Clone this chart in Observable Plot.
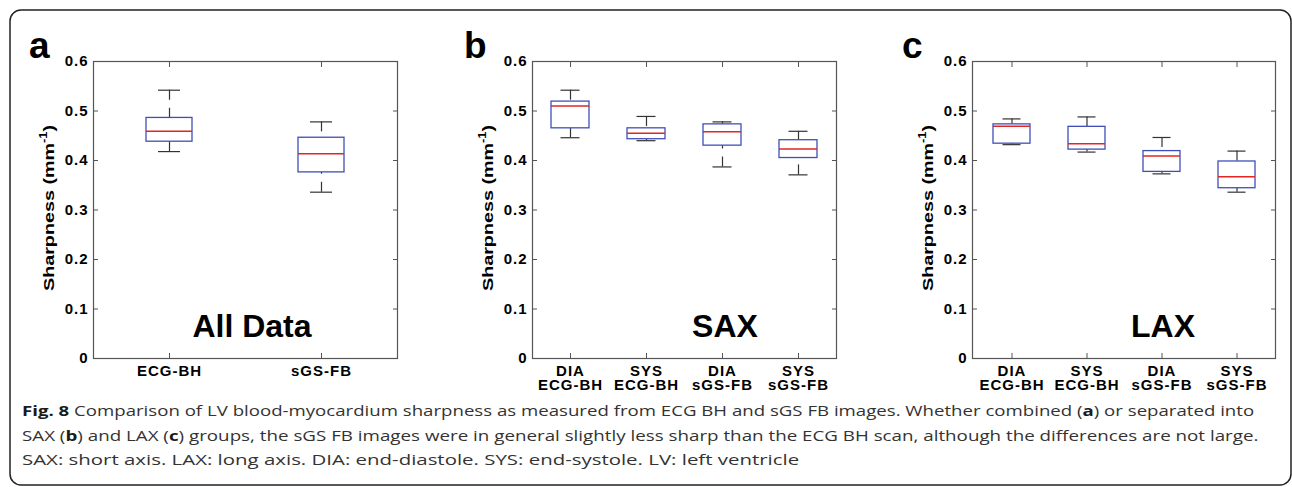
<!DOCTYPE html>
<html><head><meta charset="utf-8">
<script src="https://cdn.jsdelivr.net/npm/d3@7"></script>
<script src="https://cdn.jsdelivr.net/npm/@observablehq/plot@0.6"></script>
<style>
body{margin:0;background:#fff;}
#wrap{position:relative;width:1292px;height:487px;overflow:hidden;background:#fff;}
#wrap svg.plotsvg{position:absolute;top:0;}
#overlay{position:absolute;left:0;top:0;pointer-events:none;}
</style></head>
<body>
<div id="wrap"></div>
<script>
// ---- data ----
const yTicks = [0, 0.1, 0.2, 0.3, 0.4, 0.5, 0.6];

const catsA = ["ECG-BH", "sGS-FB"];
const lowA  = [0.418, 0.336];
const q1A   = [0.438, 0.376];
const medA  = [0.459, 0.4135];
const q3A   = [0.486, 0.446];
const highA = [0.542, 0.478];

const catsBC = ["DIA\nECG-BH", "SYS\nECG-BH", "DIA\nsGS-FB", "SYS\nsGS-FB"];

const lowSAX  = [0.446, 0.440, 0.387, 0.371];
const q1SAX   = [0.465, 0.443, 0.430, 0.405];
const medSAX  = [0.510, 0.455, 0.458, 0.423];
const q3SAX   = [0.519, 0.465, 0.473, 0.441];
const highSAX = [0.542, 0.489, 0.478, 0.459];

const lowLAX  = [0.432, 0.417, 0.373, 0.336];
const q1LAX   = [0.434, 0.422, 0.377, 0.344];
const medLAX  = [0.469, 0.434, 0.409, 0.367];
const q3LAX   = [0.473, 0.468, 0.419, 0.398];
const highLAX = [0.484, 0.488, 0.4465, 0.419];

const panelLetters = ["a", "b", "c"];
const panelTitles = ["All Data", "SAX", "LAX"];
const yLabel = "Sharpness (mm";
const yLabelSup = "-1";

// ---- drawing ----
const FONT = "'Liberation Sans', Arial, Helvetica, sans-serif";
const BLUE = "#3f4fb8", RED = "#e3261f", WHISK = "#333";

function panel(cats, low, q1, med, q3, high, o) {
  const data = cats.map((c, i) => ({c, low: low[i], q1: q1[i], med: med[i], q3: q3[i], high: high[i]}));
  const svg = Plot.plot({
    width: o.width, height: 400,
    marginLeft: o.ml, marginRight: o.mr, marginTop: 61, marginBottom: 42,
    style: {fontFamily: FONT, fontSize: "15px", fontWeight: "bold", letterSpacing: "1px", color: "#000", background: "transparent", overflow: "visible"},
    x: {type: "band", domain: cats, padding: 0, label: null},
    y: {domain: [0, 0.6], label: null},
    marks: [
      Plot.ruleX(data, {x: "c", y1: "low", y2: "q1", stroke: WHISK, strokeWidth: 1.2, strokeDasharray: "10,8"}),
      Plot.ruleX(data, {x: "c", y1: "high", y2: "q3", stroke: WHISK, strokeWidth: 1.2, strokeDasharray: "10,8"}),
      Plot.tickY(data, {x: "c", y: "low", insetLeft: o.cap, insetRight: o.cap, stroke: WHISK, strokeWidth: 1.2}),
      Plot.tickY(data, {x: "c", y: "high", insetLeft: o.cap, insetRight: o.cap, stroke: WHISK, strokeWidth: 1.2}),
      Plot.barY(data, {x: "c", y1: "q1", y2: "q3", insetLeft: o.box, insetRight: o.box, fill: "white", stroke: BLUE, strokeWidth: 1.3}),
      Plot.tickY(data, {x: "c", y: "med", insetLeft: o.box, insetRight: o.box, stroke: RED, strokeWidth: 1.5}),
      Plot.frame({stroke: "#555", strokeWidth: 1.2}),
      Plot.axisY({ticks: yTicks, tickSize: 0, tickPadding: 5, label: null, fill: "#000",
        tickFormat: d => d === 0 ? "0" : d.toFixed(1)}),
      Plot.axisY({ticks: yTicks, anchor: "left", tickSize: 5, dx: 5, label: null, tickFormat: () => "", stroke: "#555"}),
      Plot.axisY({ticks: yTicks, anchor: "right", tickSize: 5, dx: -5, label: null, tickFormat: () => "", stroke: "#555"}),
      Plot.axisX({anchor: "top", tickSize: 5, dy: 5, label: null, tickFormat: () => "", stroke: "#555"}),
      Plot.axisX({anchor: "bottom", tickSize: 5, dy: -5, label: null, tickFormat: () => "", stroke: "#555"}),
      Plot.axisX({anchor: "bottom", tickSize: 0, tickPadding: 8, label: null, lineHeight: 0.9, fill: "#000"})
    ]
  });
  svg.classList.add("plotsvg");
  svg.style.left = o.left + "px";
  return svg;
}

const wrap = document.getElementById("wrap");
wrap.appendChild(panel(catsA, lowA, q1A, medA, q3A, highA, {left: 0, width: 420, ml: 93, mr: 23, box: 53, cap: 65}));
wrap.appendChild(panel(catsBC, lowSAX, q1SAX, medSAX, q3SAX, highSAX, {left: 420, width: 440, ml: 112, mr: 24, box: 19, cap: 28.5}));
wrap.appendChild(panel(catsBC, lowLAX, q1LAX, medLAX, q3LAX, highLAX, {left: 860, width: 432, ml: 112, mr: 17, box: 19, cap: 28.5}));

// ---- overlay: border, panel letters, titles, y labels, caption ----
const NS = "http://www.w3.org/2000/svg";
const ov = document.createElementNS(NS, "svg");
ov.setAttribute("id", "overlay");
ov.setAttribute("width", 1292); ov.setAttribute("height", 487);
wrap.appendChild(ov);
function el(tag, attrs, parent = ov) {
  const e = document.createElementNS(NS, tag);
  for (const k in attrs) e.setAttribute(k, attrs[k]);
  parent.appendChild(e); return e;
}
el("rect", {x: 10, y: 10, width: 1281, height: 475, rx: 11, fill: "none", stroke: "#222", "stroke-width": 1.5});

const letterX = [29, 464, 902];
const titleX = [252, 725, 1163];
const ylabX = [54, 493, 933];
panelLetters.forEach((t, i) => {
  el("text", {x: letterX[i], y: 58, "font-family": FONT, "font-size": 37, "font-weight": "bold"}).textContent = t;
  el("text", {x: titleX[i], y: 337, "text-anchor": "middle", "font-family": FONT, "font-size": 32, "font-weight": "bold"}).textContent = panelTitles[i];
  const yl = el("text", {transform: `translate(${ylabX[i]},208) rotate(-90)`, "text-anchor": "middle", "font-family": FONT, "font-size": 15.5, "font-weight": "bold",
    textLength: 166, lengthAdjust: "spacingAndGlyphs"});
  el("tspan", {}, yl).textContent = yLabel;
  el("tspan", {dy: -7, "font-size": 10}, yl).textContent = yLabelSup;
  el("tspan", {dy: 7}, yl).textContent = ")";
});

// caption lines, each fitted to the width it spans in the reference
const capLines = [
  [["b", "Fig. 8"], ["n", " Comparison of LV blood-myocardium sharpness as measured from ECG BH and sGS FB images. Whether combined ("], ["b", "a"], ["n", ") or separated into"]],
  [["n", "SAX ("], ["b", "b"], ["n", ") and LAX ("], ["b", "c"], ["n", ") groups, the sGS FB images were in general slightly less sharp than the ECG BH scan, although the differences are not large."]],
  [["n", "SAX: short axis. LAX: long axis. DIA: end-diastole. SYS: end-systole. LV: left ventricle"]]
];
const capY = [416.5, 441, 465.5];
const capRight = [1255, 1259, 800];
capLines.forEach((parts, i) => {
  const g = el("g", {});
  const t = el("text", {x: 0, y: capY[i], "font-family": "'Open Sans', sans-serif", "font-size": 15, fill: "#333"}, g);
  parts.forEach(([w, s]) => {
    const sp = el("tspan", w === "b" ? {"font-weight": "bold", fill: "#1a1a1a"} : {}, t);
    sp.textContent = s;
  });
  const w = t.getComputedTextLength();
  g.setAttribute("transform", `translate(22,0) scale(${(capRight[i] - 22) / w},1)`);
});
</script>
</body></html>
